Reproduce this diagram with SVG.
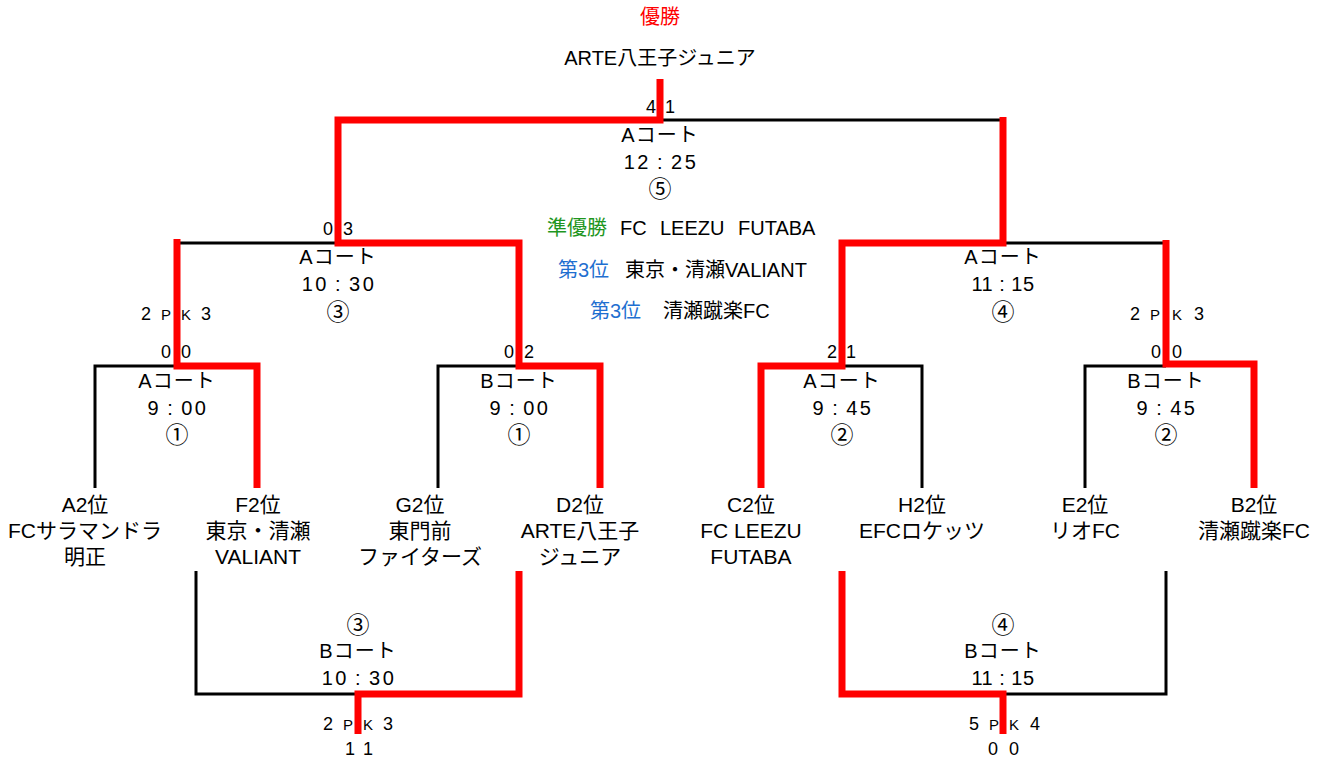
<svg xmlns="http://www.w3.org/2000/svg" width="1331" height="760" viewBox="0 0 1331 760">
<style>
text { font-family: "Liberation Sans","Noto Sans CJK JP",sans-serif; font-size:20px; fill:#000; text-anchor:middle; }
.sc { font-size:18px; }
.pk { font-size:15px; }
.tm { letter-spacing:2.5px; }
.tm2 { letter-spacing:0.5px; }
.ct { letter-spacing:1px; }
.cn { font-size:23px; }
.tn { font-size:21px; }
.red { fill:#FF0000; }
.grn { fill:#1E961E; }
.blu { fill:#1F6FD0; }
.st { text-anchor:start; }
.lb { fill:none; stroke:#000; stroke-width:3; }
.lr { fill:none; stroke:#FF0000; stroke-width:7; stroke-linejoin:miter; }
</style>
<rect width="1331" height="760" fill="#fff"/>
<g id="connectors">
  <path class="lb" d="M95,488 V366 H177"/>
  <path class="lb" d="M438,488 V366 H519"/>
  <path class="lb" d="M842,366 H922 V488"/>
  <path class="lb" d="M1085,488 V366 H1166"/>
  <path class="lb" d="M177,243 H338"/>
  <path class="lb" d="M1003,243 H1166"/>
  <path class="lb" d="M660,120 H1003"/>
  <path class="lb" d="M196,571 V694 H358"/>
  <path class="lb" d="M1003,694 H1166 V571"/>
  <path class="lr" d="M257,488 V366 H177 V239"/>
  <path class="lr" d="M600,488 V366 H519 V243 H338 V120 H660 V79"/>
  <path class="lr" d="M761,488 V366 H842 V243 H1003 V117"/>
  <path class="lr" d="M1254,488 V364 H1166 V240"/>
  <path class="lr" d="M519,571 V694 H358 V734"/>
  <path class="lr" d="M842,571 V694 H1003 V734"/>
</g>
<g id="champion">
  <text class="red" x="660" y="24">優勝</text>
  <text x="660" y="65">ARTE八王子ジュニア</text>
</g>
<g id="final">
  <text class="sc" x="651" y="113">4</text>
  <text class="sc" x="670" y="113">1</text>
  <text class="ct" x="660" y="142">Aコート</text>
  <text class="tm" x="661" y="169">12<tspan dx="6">:</tspan><tspan dx="6">25</tspan></text>
  <text class="cn" x="660" y="197">⑤</text>
</g>
<g id="results">
  <text class="st grn" x="547" y="235">準優勝</text>
  <text class="st" x="620" y="235">FC</text>
  <text class="st" x="660" y="235">LEEZU</text>
  <text class="st" x="738" y="235">FUTABA</text>
  <text class="st blu" x="558" y="277">第3位</text>
  <text class="st" x="625" y="277">東京・清瀬VALIANT</text>
  <text class="st blu" x="590" y="318">第3位</text>
  <text class="st" x="663" y="318">清瀬蹴楽FC</text>
</g>
<g id="semi-left">
  <text class="sc" x="328" y="235">0</text>
  <text class="sc" x="348" y="235">3</text>
  <text class="ct" x="338" y="264">Aコート</text>
  <text class="tm" x="339" y="291">10<tspan dx="6">:</tspan><tspan dx="6">30</tspan></text>
  <text class="cn" x="338" y="320">③</text>
  <text class="sc" x="146" y="320">2</text>
  <text class="pk" x="166" y="320">P</text>
  <text class="pk" x="186" y="320">K</text>
  <text class="sc" x="206" y="320">3</text>
</g>
<g id="semi-right">
  <text class="ct" x="1003" y="264">Aコート</text>
  <text class="tm2" x="1003" y="291">11<tspan dx="6">:</tspan><tspan dx="6">15</tspan></text>
  <text class="cn" x="1003" y="320">④</text>
  <text class="sc" x="1135" y="320">2</text>
  <text class="pk" x="1155" y="320">P</text>
  <text class="pk" x="1177" y="320">K</text>
  <text class="sc" x="1199" y="320">3</text>
</g>
<g id="r1-a">
  <text class="sc" x="166" y="358">0</text>
  <text class="sc" x="186" y="358">0</text>
  <text class="ct" x="177" y="388">Aコート</text>
  <text class="tm" x="178" y="415">9<tspan dx="6">:</tspan><tspan dx="6">00</tspan></text>
  <text class="cn" x="177" y="443">①</text>
</g>
<g id="r1-b">
  <text class="sc" x="509" y="358">0</text>
  <text class="sc" x="529" y="358">2</text>
  <text class="ct" x="519" y="388">Bコート</text>
  <text class="tm" x="520" y="415">9<tspan dx="6">:</tspan><tspan dx="6">00</tspan></text>
  <text class="cn" x="519" y="443">①</text>
</g>
<g id="r1-c">
  <text class="sc" x="832" y="358">2</text>
  <text class="sc" x="851" y="358">1</text>
  <text class="ct" x="842" y="388">Aコート</text>
  <text class="tm" x="843" y="415">9<tspan dx="6">:</tspan><tspan dx="6">45</tspan></text>
  <text class="cn" x="842" y="443">②</text>
</g>
<g id="r1-d">
  <text class="sc" x="1156" y="358">0</text>
  <text class="sc" x="1177" y="358">0</text>
  <text class="ct" x="1166" y="388">Bコート</text>
  <text class="tm" x="1167" y="415">9<tspan dx="6">:</tspan><tspan dx="6">45</tspan></text>
  <text class="cn" x="1166" y="443">②</text>
</g>
<g id="team-a2">
  <text class="tn" x="85" y="512">A2位</text>
  <text class="tn" x="85" y="538">FCサラマンドラ</text>
  <text class="tn" x="85" y="564">明正</text>
</g>
<g id="team-f2">
  <text class="tn" x="258" y="512">F2位</text>
  <text class="tn" x="258" y="538">東京・清瀬</text>
  <text class="tn" x="258" y="564">VALIANT</text>
</g>
<g id="team-g2">
  <text class="tn" x="420" y="512">G2位</text>
  <text class="tn" x="420" y="538">東門前</text>
  <text class="tn" x="420" y="564">ファイターズ</text>
</g>
<g id="team-d2">
  <text class="tn" x="580" y="512">D2位</text>
  <text class="tn" x="580" y="538">ARTE八王子</text>
  <text class="tn" x="580" y="564">ジュニア</text>
</g>
<g id="team-c2">
  <text class="tn" x="751" y="512">C2位</text>
  <text class="tn" x="751" y="538">FC LEEZU</text>
  <text class="tn" x="751" y="564">FUTABA</text>
</g>
<g id="team-h2">
  <text class="tn" x="922" y="512">H2位</text>
  <text class="tn" x="922" y="538">EFCロケッツ</text>
</g>
<g id="team-e2">
  <text class="tn" x="1085" y="512">E2位</text>
  <text class="tn" x="1085" y="538">リオFC</text>
</g>
<g id="team-b2">
  <text class="tn" x="1254" y="512">B2位</text>
  <text class="tn" x="1254" y="538">清瀬蹴楽FC</text>
</g>
<g id="third-left">
  <text class="cn" x="358" y="633">③</text>
  <text class="ct" x="358" y="658">Bコート</text>
  <text class="tm" x="359" y="685">10<tspan dx="6">:</tspan><tspan dx="6">30</tspan></text>
  <text class="sc" x="328" y="730">2</text>
  <text class="pk" x="348" y="730">P</text>
  <text class="pk" x="368" y="730">K</text>
  <text class="sc" x="388" y="730">3</text>
  <text class="sc" x="350" y="755">1</text>
  <text class="sc" x="368" y="755">1</text>
</g>
<g id="third-right">
  <text class="cn" x="1003" y="633">④</text>
  <text class="ct" x="1003" y="658">Bコート</text>
  <text class="tm2" x="1003" y="685">11<tspan dx="6">:</tspan><tspan dx="6">15</tspan></text>
  <text class="sc" x="974" y="730">5</text>
  <text class="pk" x="994" y="730">P</text>
  <text class="pk" x="1014" y="730">K</text>
  <text class="sc" x="1035" y="730">4</text>
  <text class="sc" x="993" y="755">0</text>
  <text class="sc" x="1014" y="755">0</text>
</g>
</svg>
